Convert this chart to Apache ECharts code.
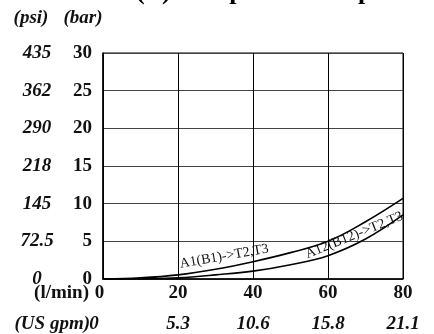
<!DOCTYPE html>
<html>
<head>
<meta charset="utf-8">
<script src="https://cdn.jsdelivr.net/npm/echarts@6/dist/echarts.min.js"></script>
<style>
  html, body { margin: 0; padding: 0; background: #fff; }
  #chart { width: 434px; height: 334px; }
</style>
</head>
<body>
<div id="chart"></div>
<script>
// Flow (l/min) sample points and pressure drop (bar) per path
const flow = [0, 10, 20, 30, 40, 50, 60, 70, 80];
const dpA1 = [0, 0.15, 0.55, 1.3, 2.3, 3.5, 5.0, 7.6, 10.7];   // A1(B1)->T2,T3
const dpA12 = [0, 0.05, 0.17, 0.55, 1.05, 1.9, 3.1, 5.3, 8.5]; // A12(B12)->T2,T3

// Tick labels
const barTicks = [0, 5, 10, 15, 20, 25, 30];
const psiTicks = ['0', '72.5', '145', '218', '290', '362', '435'];
const lpmTicks = ['0', '20', '40', '60', '80'];
const gpmTicks = ['0', '5.3', '10.6', '15.8', '21.1'];

const curveNames = ['A1(B1)->T2,T3', 'A12(B12)->T2,T3'];
const titleText = '(B) Pump to Tank \u0394p';

const FONT = 'Liberation Serif';
const FS = 19;
const chart = echarts.init(document.getElementById('chart'));

function pairs(ys) { return flow.map((x, i) => [x, ys[i]]); }

const lineStyle = { color: '#000', width: 1.6 };
const tickText = { fontFamily: FONT, fontWeight: 'bold', fontSize: FS, color: '#111' };

chart.setOption({
  animation: false,
  backgroundColor: '#fff',
  grid: { left: 103, right: 31, top: 53, bottom: 55, show: true, borderColor: '#000', borderWidth: 1 },
  xAxis: [
    {
      type: 'value', min: 0, max: 80, interval: 20, position: 'bottom',
      axisLine: { lineStyle: { color: '#000', width: 1.5 } },
      axisTick: { show: false },
      splitLine: { lineStyle: { color: '#000', width: 1 } },
      axisLabel: Object.assign({}, tickText, {
        margin: 5,
        formatter: v => {
          const s = lpmTicks[v / 20];
          return v === 0 ? '{z|' + s + '}' : s;
        },
        rich: { z: Object.assign({}, tickText, { padding: [0, 7, 0, 0] }) }
      })
    },
    {
      type: 'value', min: 0, max: 80, interval: 20, position: 'bottom', offset: 0,
      axisLine: { show: false }, axisTick: { show: false }, splitLine: { show: false },
      axisLabel: Object.assign({}, tickText, {
        fontStyle: 'italic', margin: 36,
        formatter: v => {
          const s = gpmTicks[v / 20];
          return v === 0 ? '{z|' + s + '}' : s;
        },
        rich: { z: Object.assign({}, tickText, { fontStyle: 'italic', padding: [0, 18, 0, 0] }) }
      })
    }
  ],
  yAxis: [
    {
      type: 'value', min: 0, max: 30, interval: 5, position: 'left',
      axisLine: { show: true, lineStyle: { color: '#000', width: 1.5 } },
      axisTick: { show: false },
      splitLine: { lineStyle: { color: '#444', width: 1.2 } },
      axisLabel: Object.assign({}, tickText, {
        margin: 11,
        formatter: v => String(barTicks[v / 5])
      })
    },
    {
      type: 'value', min: 0, max: 30, interval: 5, position: 'left', offset: 0,
      axisLine: { show: false }, axisTick: { show: false }, splitLine: { show: false },
      axisLabel: Object.assign({}, tickText, {
        fontStyle: 'italic', align: 'center', margin: 66,
        formatter: v => psiTicks[v / 5]
      })
    }
  ],
  series: [
    {
      type: 'line', name: curveNames[0], data: pairs(dpA1), smooth: 0.4,
      symbol: 'none', lineStyle: lineStyle,
      markPoint: {
        symbol: 'circle', symbolSize: 0, silent: true,
        data: [{ coord: [32.3, 3.0] }],
        label: {
          show: true, position: 'inside', rotate: 10, formatter: curveNames[0],
          fontFamily: FONT, fontSize: 14, color: '#111'
        }
      }
    },
    {
      type: 'line', name: curveNames[1], data: pairs(dpA12), smooth: 0.4,
      symbol: 'none', lineStyle: lineStyle,
      markPoint: {
        symbol: 'circle', symbolSize: 0, silent: true,
        data: [{ coord: [67, 5.8] }],
        label: {
          show: true, position: 'inside', rotate: 22, formatter: curveNames[1],
          fontFamily: FONT, fontSize: 14, color: '#111'
        }
      }
    }
  ],
  graphic: [
    // title sits mostly above the top edge; only its descenders show
    { type: 'text', x: 136, y: -21,
      style: { text: titleText, font: 'bold 26px "' + FONT + '"', fill: '#000', verticalAlign: 'top' } },
    { type: 'text', x: 31, y: 18,
      style: { text: '(psi)', font: 'italic bold ' + FS + 'px "' + FONT + '"', fill: '#111', align: 'center', verticalAlign: 'middle' } },
    { type: 'text', x: 83, y: 18,
      style: { text: '(bar)', font: 'italic bold ' + FS + 'px "' + FONT + '"', fill: '#111', align: 'center', verticalAlign: 'middle' } },
    { type: 'text', x: 89, y: 293,
      style: { text: '(l/min)', font: 'bold ' + FS + 'px "' + FONT + '"', fill: '#111', align: 'right', verticalAlign: 'middle' } },
    { type: 'text', x: 90, y: 324,
      style: { text: '(US gpm)', font: 'italic bold ' + FS + 'px "' + FONT + '"', fill: '#111', align: 'right', verticalAlign: 'middle' } }
  ]
});
</script>
</body>
</html>
